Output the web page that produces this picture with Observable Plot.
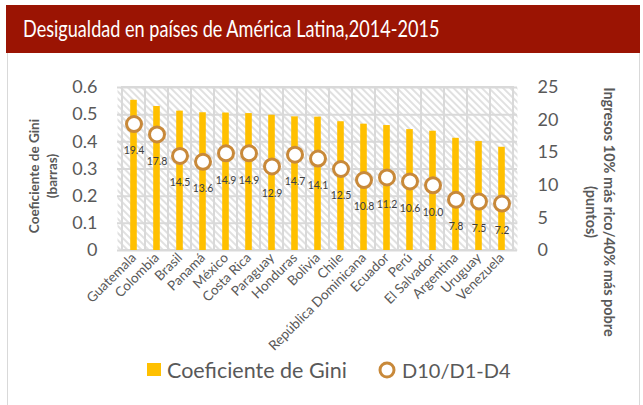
<!DOCTYPE html>
<html><head><meta charset="utf-8">
<script src="https://cdn.jsdelivr.net/npm/d3@7"></script>
<script src="https://cdn.jsdelivr.net/npm/@observablehq/plot@0.6"></script>
<style>
body{margin:0;background:#fff;font-family:Lato,"Open Sans",sans-serif}
#wrap{position:relative;width:643px;height:405px;overflow:hidden}
#frame{position:absolute;left:7px;top:5px;width:631px;height:420px;border:1px solid #d9d9d9;border-top:none}
#title{position:absolute;left:6px;top:5px;width:634px;height:48px;background:#9B1403}
#title span{position:absolute;left:17px;top:0;color:#fff;font-size:23.5px;line-height:46px;white-space:nowrap;transform:scaleX(0.77);transform-origin:0 50%}
#chart{position:absolute;left:0;top:53px}
#chart svg{overflow:visible}
.lg{position:absolute;color:#595959;line-height:20px;white-space:nowrap}
</style></head>
<body>
<div id="wrap">
<div id="frame"></div>
<div id="title"><span>Desigualdad en países de América Latina,2014-2015</span></div>
<div id="chart"></div>
<div id="legend"></div>
</div>
<script>
const countries = ["Guatemala","Colombia","Brasil","Panamá","México","Costa Rica","Paraguay","Honduras","Bolivia","Chile","República Dominicana","Ecuador","Perú","El Salvador","Argentina","Uruguay","Venezuela"];
const gini = [0.553,0.530,0.513,0.507,0.506,0.504,0.498,0.492,0.491,0.474,0.465,0.460,0.445,0.439,0.413,0.401,0.380];
const ratio = [19.4,17.8,14.5,13.6,14.9,14.9,12.9,14.7,14.1,12.5,10.8,11.2,10.6,10.0,7.8,7.5,7.2];
const leftTicks = [0,0.1,0.2,0.3,0.4,0.5,0.6];
const rightTicks = [0,5,10,15,20,25];
const seriesNames = ["Coeficiente de Gini","D10/D1-D4"];
const leftTitle = "Coeficiente de Gini\n(barras)";
const rightTitle = "Ingresos 10% más rico/40% más pobre\n(puntos)";

const GMAX = 0.6, RMAX = 25;
const toLeft = v => v * GMAX / RMAX;
const data = countries.map((c, i) => ({country: c, gini: gini[i], ratio: ratio[i], ry: toLeft(ratio[i])}));

const yellow = "#FFC000", brown = "#C8893A", grid = "#d9d9d9", txt = "#595959";

const chart = Plot.plot({
  width: 643, height: 300,
  marginLeft: 117, marginRight: 126, marginTop: 34, marginBottom: 103,
  style: {fontFamily: "Lato, 'Open Sans', sans-serif", color: txt, background: "transparent", overflow: "visible"},
  x: {domain: countries, padding: 0},
  y: {domain: [0, GMAX]},
  marks: [
    Plot.frame({fill: "url(#hatch)", stroke: null}),
    Plot.cell(countries, {x: d => d, fill: "none", stroke: grid, strokeWidth: 2}),
    Plot.gridY(leftTicks, {stroke: grid, strokeOpacity: 1, strokeWidth: 2}),
    Plot.barY(data, {x: "country", y: "gini", fill: yellow, insetLeft: 8.2, insetRight: 8.2}),
    Plot.dot(data, {x: "country", y: "ry", r: 7.5, fill: "white", stroke: brown, strokeWidth: 3}),
    Plot.text(data, {x: "country", y: "ry", text: d => d.ratio.toFixed(1), dy: 27, fontSize: 10.5, fill: "#404040"}),
    Plot.axisY(leftTicks, {anchor: "left", tickSize: 0, tickPadding: 20, fontSize: 18, label: null,
      tickFormat: d => d === 0 ? "0" : d.toFixed(1)}),
    Plot.axisY(rightTicks.map(toLeft), {anchor: "right", tickSize: 0, tickPadding: 20, fontSize: 18, label: null,
      tickFormat: v => String(Math.round(v * RMAX / GMAX))}),
    Plot.axisX({tickRotate: -45, tickSize: 0, tickPadding: 5, fontSize: 13.5, label: null}),
    Plot.text([leftTitle], {frameAnchor: "left", textAnchor: "middle", dx: -75, dy: 7, rotate: -90, fontWeight: "bold", fontSize: 13.5, lineHeight: 1.3, fill: txt}),
    Plot.text([rightTitle], {frameAnchor: "right", textAnchor: "middle", dx: 83, dy: 43, rotate: 90, fontWeight: "bold", fontSize: 14.5, lineHeight: 1.2, fill: txt})
  ]
});

const ns = "http://www.w3.org/2000/svg";
const defs = document.createElementNS(ns, "defs");
defs.innerHTML = `<pattern id="hatch" patternUnits="userSpaceOnUse" width="5" height="5" patternTransform="rotate(-45)">
<rect width="5" height="5" fill="white"/><line x1="1" y1="0" x2="1" y2="5" stroke="#d4d4d4" stroke-width="1.4"/></pattern>`;
chart.prepend(defs);
document.getElementById("chart").appendChild(chart);

const lg = document.getElementById("legend");
lg.innerHTML = `
<div style="position:absolute;left:147px;top:363px;width:14px;height:13px;background:${yellow}"></div>
<div class="lg" style="left:167px;top:360px;font-size:21.5px">${seriesNames[0]}</div>
<svg style="position:absolute;left:377px;top:360px" width="20" height="20"><circle cx="10" cy="10" r="7" fill="white" stroke="${brown}" stroke-width="3"/></svg>
<div class="lg" style="left:402px;top:360px;font-size:20px">${seriesNames[1]}</div>`;
</script>
</body></html>
